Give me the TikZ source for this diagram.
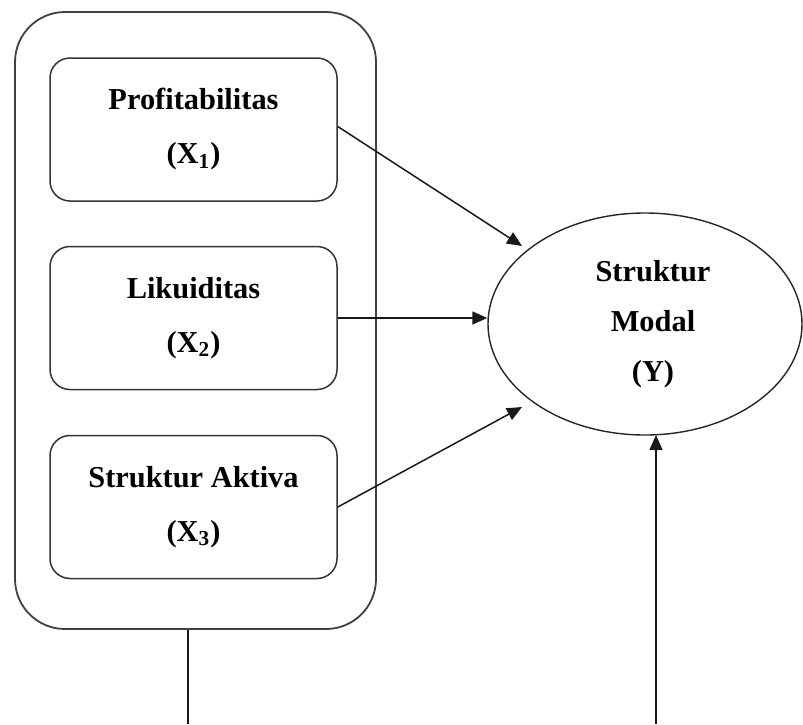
\documentclass[tikz,border=0pt]{standalone}
\usepackage{fontspec}
\setmainfont{Liberation Serif}
\usetikzlibrary{arrows.meta,shapes.geometric}
\begin{document}
\begin{tikzpicture}[x=0.5pt,y=-0.5pt,
  lbl/.style={font=\fontsize{15.2}{27}\selectfont\bfseries, align=center},
  varbox/.style={lbl, draw=black!80, line width=0.75pt, rounded corners=10pt,
    minimum width=143.5pt, minimum height=71.5pt, inner sep=0pt},
  groupbox/.style={draw=black!75, line width=0.9pt, rounded corners=25pt,
    minimum width=180.5pt, minimum height=308.5pt, inner sep=0pt},
  depell/.style={ellipse, draw=black!85, line width=0.7pt,
    minimum width=157pt, minimum height=111pt, inner sep=0pt,
    font=\fontsize{15.2}{25}\selectfont\bfseries, align=center},
  arr/.style={draw=black!90, line width=0.75pt, -{Triangle[length=7.5pt,width=6.5pt]}},
  ln/.style={draw=black!90, line width=0.75pt}]
\useasboundingbox (0,0) rectangle (803,724);
\node[groupbox] (outer) at (195.5,320.5) {};
\node[varbox] (x1) at (193.5,129.5) {Profitabilitas\\(X\textsubscript{1})};
\node[varbox] (x2) at (193.5,318) {Likuiditas\\(X\textsubscript{2})};
\node[varbox] (x3) at (193.5,507) {Struktur Aktiva\\(X\textsubscript{3})};
\node[depell] (y) at (645,324) {\hspace*{8pt}Struktur\\\hspace*{8pt}Modal\\\hspace*{8pt}(Y)};
\coordinate (t1) at (522,246);
\coordinate (t3) at (522,407);
\coordinate (ob) at (188,724);
\coordinate (yb) at (656,724);
\coordinate (yt) at (656,435);
\draw[arr] (x1.east) ++(0,-3) -- (t1);
\draw[arr] (x2.east) -- (y.west |- x2.east);
\draw[arr] (x3.east) -- (t3);
\draw[ln] (outer.south -| ob) -- (ob);
\draw[arr] (yb) -- (yt);
\end{tikzpicture}
\end{document}
